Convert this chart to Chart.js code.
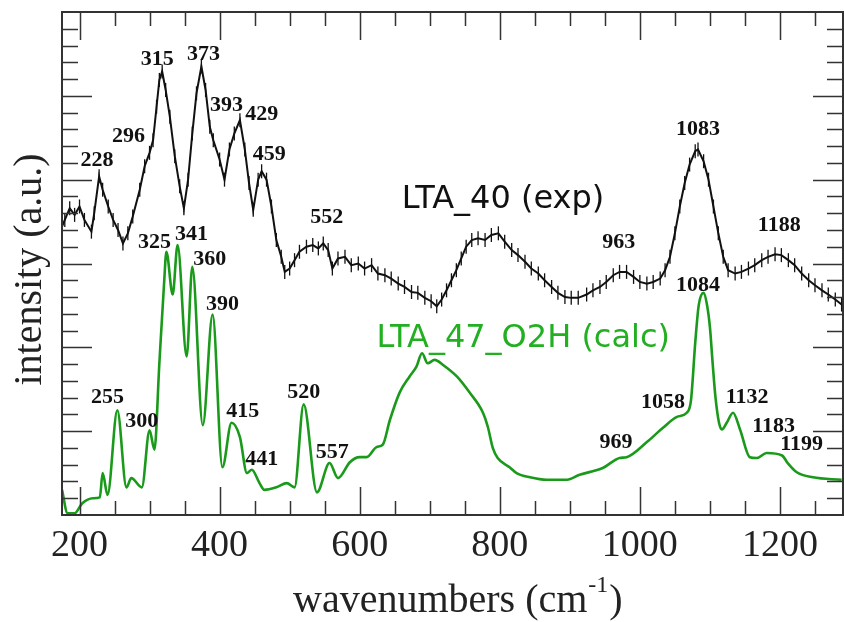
<!DOCTYPE html>
<html>
<head>
<meta charset="utf-8">
<script src="https://cdn.jsdelivr.net/npm/chart.js@4.4.1/dist/chart.umd.min.js"></script>
<style>
  html, body { margin: 0; padding: 0; background: #fff; }
  #wrap { width: 844px; height: 622px; }
</style>
</head>
<body>
<div id="wrap"><canvas id="canvas_one" width="844" height="622"></canvas></div>
<script>
// LTA_40 (exp)
const exp_x = [175, 179, 186, 193, 200, 207, 217, 221, 228, 233, 241, 248, 255, 262, 269, 276, 286, 293, 300, 305,
    310, 314, 318, 323, 329, 336, 343, 349, 355, 361, 367, 374, 380, 386, 391, 400, 407, 414, 421, 429,
    436, 442, 448, 455, 460, 467, 474, 481, 488, 493, 500, 507, 514, 524, 533, 541, 548, 555, 561, 569,
    579, 588, 598, 607, 617, 626, 636, 645, 655, 664, 674, 683, 693, 702, 710, 717, 724, 731, 738, 745,
    752, 760, 769, 779, 788, 798, 807, 817, 826, 836, 845, 855, 864, 874, 883, 893, 902, 912, 924, 933,
    943, 952, 962, 971, 981, 991, 1000, 1010, 1019, 1029, 1036, 1043, 1050, 1057, 1064, 1071, 1079, 1083, 1091, 1098,
    1105, 1112, 1119, 1126, 1136, 1145, 1155, 1164, 1174, 1183, 1193, 1202, 1212, 1221, 1231, 1241, 1250, 1260, 1269, 1279,
    1288]
const exp_y = [3.44, 3.52, 3.66, 3.58, 3.68, 3.52, 3.38, 3.60, 4.04, 3.88, 3.68, 3.52, 3.40, 3.24, 3.36, 3.56, 3.88, 4.16, 4.32, 4.47,
    4.87, 5.19, 5.29, 5.07, 4.75, 4.28, 3.92, 3.66, 4.00, 4.55, 5.03, 5.35, 5.07, 4.63, 4.47, 4.24, 4.00, 4.36, 4.55, 4.71,
    4.36, 3.96, 3.64, 4.00, 4.10, 4.00, 3.68, 3.28, 3.08, 2.90, 2.94, 3.04, 3.14, 3.20, 3.22, 3.18, 3.24, 3.16, 2.94, 3.06,
    3.08, 2.98, 3.00, 2.94, 2.98, 2.88, 2.86, 2.82, 2.76, 2.72, 2.66, 2.65, 2.59, 2.55, 2.49, 2.57, 2.68, 2.80, 2.92, 3.06,
    3.20, 3.28, 3.30, 3.28, 3.34, 3.36, 3.26, 3.16, 3.10, 3.02, 2.94, 2.88, 2.80, 2.72, 2.65, 2.60, 2.59, 2.59, 2.63, 2.68,
    2.72, 2.78, 2.86, 2.90, 2.90, 2.84, 2.78, 2.76, 2.78, 2.82, 2.92, 3.08, 3.36, 3.68, 3.96, 4.18, 4.34, 4.36, 4.22, 4.00,
    3.68, 3.36, 3.08, 2.92, 2.88, 2.90, 2.94, 2.98, 3.04, 3.08, 3.11, 3.10, 3.04, 2.98, 2.88, 2.80, 2.74, 2.68, 2.63, 2.57,
    2.51]

// LTA_47_O2H (calc)
const calc_x = [175, 183, 193, 204, 219, 229, 233, 240, 254, 267, 274, 289, 300, 307, 314, 321, 324, 333, 340, 353,
    361, 376, 390, 404, 417, 429, 439, 446, 457, 464, 481, 496, 507, 520, 539, 557, 569, 586, 600, 610,
    624, 633, 643, 657, 671, 681, 689, 697, 707, 719, 739, 757, 776, 783, 790, 797, 814, 824, 843, 867,
    896, 914, 947, 971, 981, 1010, 1033, 1053, 1067, 1073, 1079, 1084, 1091, 1096, 1100, 1104, 1108, 1113, 1117, 1124,
    1133, 1143, 1157, 1167, 1181, 1203, 1211, 1224, 1247, 1288]
const calc_y = [0.30, 0.02, 0.02, 0.14, 0.20, 0.21, 0.50, 0.24, 1.25, 0.33, 0.44, 0.33, 1.01, 0.78, 1.81, 2.80, 3.14, 2.63, 3.22, 1.89,
    2.96, 1.07, 2.39, 0.57, 1.10, 0.93, 0.50, 0.54, 0.38, 0.30, 0.33, 0.38, 0.33, 1.32, 0.27, 0.62, 0.44, 0.63, 0.69, 0.69,
    0.81, 0.84, 1.13, 1.46, 1.65, 1.77, 1.93, 1.81, 1.85, 1.79, 1.65, 1.46, 1.22, 1.05, 0.80, 0.68, 0.57, 0.50, 0.45, 0.42,
    0.42, 0.48, 0.56, 0.68, 0.69, 0.87, 1.04, 1.17, 1.22, 1.37, 2.05, 2.50, 2.65, 2.50, 2.24, 1.80, 1.40, 1.10, 1.02, 1.10,
    1.22, 1.02, 0.69, 0.68, 0.74, 0.71, 0.62, 0.51, 0.45, 0.42]

// x tick labels
const x_ticks = [200, 400, 600, 800, 1000, 1200]

// peak labels (label text, anchor x, anchor y in data units)
const exp_peaks   = ['228', '296', '315', '373', '393', '429', '459', '552', '963', '1083', '1188']
const exp_peak_x  = [225, 270, 311, 377, 410, 460, 471, 553, 970, 1083, 1199]
const exp_peak_y  = [4.16, 4.45, 5.37, 5.43, 4.82, 4.71, 4.24, 3.48, 3.19, 4.53, 3.39]
const calc_peaks  = ['255', '300', '325', '341', '360', '390', '415', '441', '520', '557', '969', '1058', '1084', '1132', '1183', '1199']
const calc_peak_x = [240, 289, 307, 360, 386, 404, 433, 460, 520, 561, 966, 1033, 1083, 1153, 1191, 1231]
const calc_peak_y = [1.34, 1.05, 3.19, 3.28, 2.98, 2.45, 1.17, 0.60, 1.40, 0.68, 0.80, 1.28, 2.67, 1.34, 0.99, 0.78]

const series_names = ['LTA_40 (exp)', 'LTA_47_O2H (calc)']
const series_name_x = [660, 624]
const series_name_y = [3.66, 2.00]

const BLACK = '#111111'
const GREEN = '#1a9a1a'
const GREEN_TEXT = '#22b022'

function toPoints(xs, ys) {
    return xs.map((x, i) => ({ x: x, y: ys[i] }))
}

// frame, inward ticks, titles and text labels
const decorations = {
    id: 'decorations',
    afterDatasetsDraw(chart) {
        const ctx = chart.ctx
        const a = chart.chartArea
        const sx = chart.scales.x
        const sy = chart.scales.y
        ctx.save()
        ctx.strokeStyle = '#333'
        ctx.lineWidth = 2
        ctx.strokeRect(a.left, a.top, a.right - a.left, a.bottom - a.top)

        ctx.lineWidth = 1.5
        ctx.beginPath()
        for (let v = 200; v <= 1290; v += 50) {
            const px = Math.round(sx.getPixelForValue(v)) + 0.5
            const len = (v % 200 === 0) ? 28 : 14
            ctx.moveTo(px, a.bottom); ctx.lineTo(px, a.bottom - len)
            ctx.moveTo(px, a.top); ctx.lineTo(px, a.top + len)
        }
        for (let k = 1; k < 30; k++) {
            const v = k * 0.2
            const py = Math.round(sy.getPixelForValue(v)) + 0.5
            const len = (k % 5 === 0) ? 30 : 16
            ctx.moveTo(a.left, py); ctx.lineTo(a.left + len, py)
            ctx.moveTo(a.right, py); ctx.lineTo(a.right - len, py)
        }
        ctx.stroke()

        // peak labels
        ctx.font = 'bold 22px "Liberation Serif"'
        ctx.fillStyle = '#111'
        ctx.textAlign = 'center'
        ctx.textBaseline = 'alphabetic'
        exp_peaks.forEach((t, i) => {
            ctx.fillText(t, sx.getPixelForValue(exp_peak_x[i]), sy.getPixelForValue(exp_peak_y[i]))
        })
        calc_peaks.forEach((t, i) => {
            ctx.fillText(t, sx.getPixelForValue(calc_peak_x[i]), sy.getPixelForValue(calc_peak_y[i]))
        })

        // series names
        ctx.font = '32px "DejaVu Sans"'
        ctx.textAlign = 'left'
        ctx.fillStyle = '#111'
        ctx.fillText(series_names[0], sx.getPixelForValue(series_name_x[0]), sy.getPixelForValue(series_name_y[0]))
        ctx.fillStyle = GREEN_TEXT
        ctx.fillText(series_names[1], sx.getPixelForValue(series_name_x[1]), sy.getPixelForValue(series_name_y[1]))

        // axis titles
        ctx.fillStyle = '#222'
        ctx.font = '40px "Liberation Serif"'
        ctx.save()
        ctx.translate(30, (a.top + a.bottom) / 2 + 6)
        ctx.rotate(-Math.PI / 2)
        ctx.textAlign = 'center'
        ctx.textBaseline = 'middle'
        ctx.fillText('intensity (a.u.)', 0, 0)
        ctx.restore()

        ctx.textAlign = 'left'
        ctx.textBaseline = 'alphabetic'
        let x0 = 293
        const base = 612
        const part1 = 'wavenumbers (cm'
        ctx.fillText(part1, x0, base)
        x0 += ctx.measureText(part1).width
        ctx.font = '24px "Liberation Serif"'
        ctx.fillText('-1', x0 + 1, base - 20)
        x0 += ctx.measureText('-1').width + 2
        ctx.font = '40px "Liberation Serif"'
        ctx.fillText(')', x0, base)
        ctx.restore()
    }
}

const ctx_one = document.getElementById('canvas_one')

new Chart(ctx_one, {
    type: 'line',
    data: {
        datasets: [
            {
                label: series_names[0],
                data: toPoints(exp_x, exp_y),
                borderColor: BLACK,
                borderWidth: 2,
                pointStyle: 'line',
                pointRotation: 90,
                pointRadius: 7,
                pointBorderColor: BLACK,
                pointBorderWidth: 1.3,
                tension: 0
            },
            {
                label: series_names[1],
                data: toPoints(calc_x, calc_y),
                borderColor: GREEN,
                borderWidth: 2.6,
                pointRadius: 0,
                tension: 0.3,
                cubicInterpolationMode: 'monotone'
            }
        ]
    },
    options: {
        responsive: false,
        animation: false,
        events: [],
        layout: { autoPadding: false, padding: { left: 62, top: 12, right: 1, bottom: 0 } },
        plugins: { legend: { display: false }, tooltip: { enabled: false } },
        scales: {
            x: {
                type: 'linear',
                min: 175,
                max: 1290,
                grid: { display: false, drawTicks: false },
                border: { display: false },
                afterBuildTicks: s => { s.ticks = x_ticks.map(v => ({ value: v })) },
                afterFit: s => {
                    s.height = 107
                    s.paddingLeft = 0
                    s.paddingRight = 0
                },
                ticks: {
                    autoSkip: false,
                    maxRotation: 0,
                    padding: 8,
                    color: '#222',
                    font: { family: 'Liberation Serif', size: 38 },
                    callback: v => String(v)
                }
            },
            y: {
                display: false,
                min: 0,
                max: 6
            }
        }
    },
    plugins: [decorations]
})
</script>
</body>
</html>
